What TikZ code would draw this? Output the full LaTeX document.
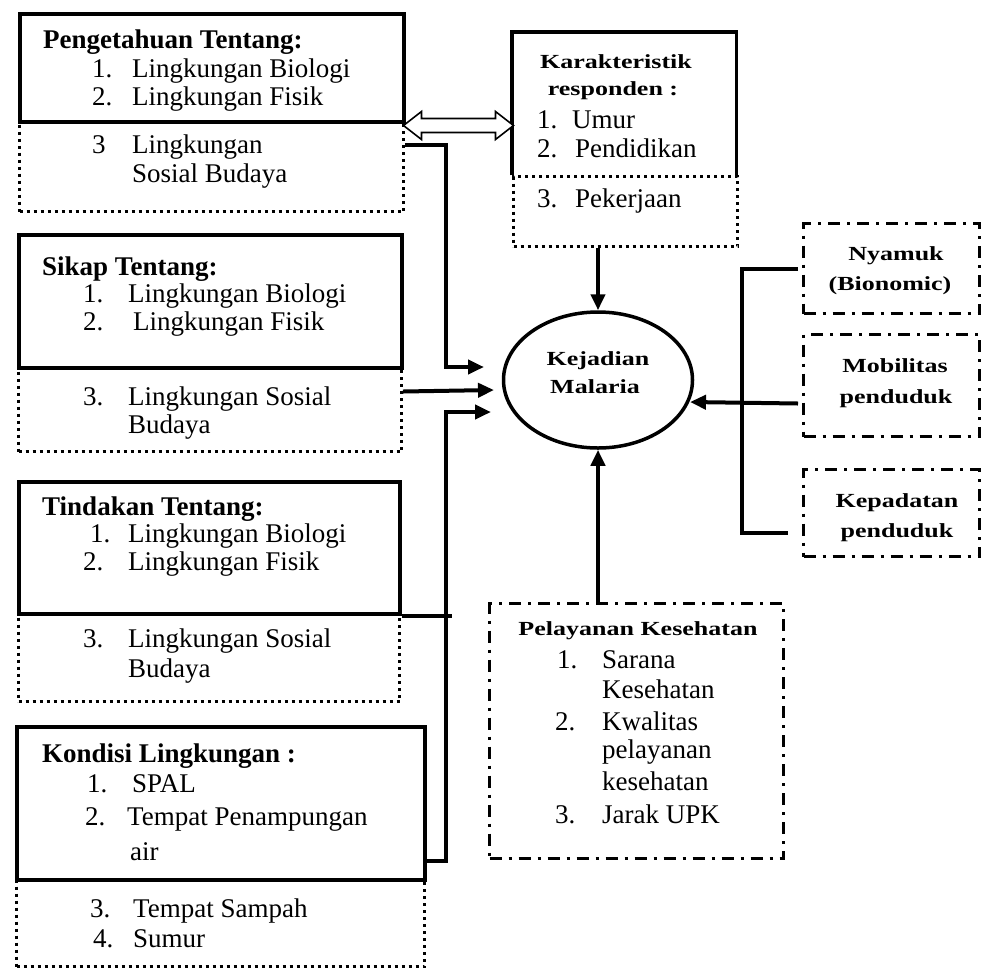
\documentclass[tikz,border=0pt]{standalone}
\usepackage{fontspec}
\setmainfont{Liberation Serif}
\newfontfamily\smbf[FakeStretch=1.3]{Liberation Serif}
\usetikzlibrary{arrows.meta,shapes.geometric}
\tikzset{
 txt/.style={inner sep=0pt, anchor=base west, font=\fontsize{27}{30}\selectfont},
 hd/.style={inner sep=0pt, anchor=base west, font=\fontsize{27}{30}\selectfont\bfseries},
 sm/.style={inner sep=0pt, anchor=base, font=\fontsize{20}{24}\smbf\bfseries},
 boxn/.style={inner sep=0pt, anchor=north west, rectangle},
 solidline/.style={line width=3.5pt, line join=miter},
 dotline/.style={line width=3pt, dash pattern=on 3pt off 4pt},
 dashdot/.style={line width=3pt, dash pattern=on 12pt off 7pt on 3pt off 7pt},
 conn/.style={line width=4pt},
 arr/.style={conn, -{Triangle[length=16pt,width=14pt]}},
}
\begin{document}
\begin{tikzpicture}[x=1pt,y=-1pt]
\useasboundingbox (0,0) rectangle (982,970);

% ---- boxes: dotted lower parts first
\node[boxn, draw, dotline, minimum width=384, minimum height=90] (pg2) at (18,120) {};
\node[boxn, draw, dotline, minimum width=383, minimum height=84] (sk2) at (17,366) {};
\node[boxn, draw, dotline, minimum width=381, minimum height=88] (td2) at (17,612) {};
\node[boxn, draw, dotline, minimum width=408, minimum height=87] (kd2) at (15,878) {};
\node[boxn, draw, dotline, minimum width=224, minimum height=70] (kr2) at (512,175) {};

% ---- solid upper parts
\node[boxn, draw, solidline, minimum width=384, minimum height=108] (pg1) at (18,12) {};
\node[boxn, draw, solidline, minimum width=383, minimum height=133] (sk1) at (17,233) {};
\node[boxn, draw, solidline, minimum width=381, minimum height=132] (td1) at (17,480) {};
\node[boxn, draw, solidline, minimum width=408, minimum height=153] (kd1) at (15,725) {};
\node[boxn, minimum width=224, minimum height=143] (kr1) at (512,32) {};
\draw[solidline] (kr1.south west) |- (kr1.north east) -- (kr1.south east);

% ---- dash-dot boxes
\node[boxn, draw, dashdot, minimum width=176, minimum height=90] (ny) at (802,222) {};
\node[boxn, draw, dashdot, minimum width=176, minimum height=102] (mb) at (802,333) {};
\node[boxn, draw, dashdot, minimum width=176, minimum height=87] (kp) at (802,468) {};
\node[boxn, draw, dashdot, minimum width=294, minimum height=255] (pl) at (488,602) {};

% ---- ellipse
\node[draw, ellipse, line width=3.5pt, minimum width=189, minimum height=136, inner sep=0pt] (em) at (598,380) {};

% ---- texts: Pengetahuan
\node[hd] (pgh) at (43,48) {Pengetahuan Tentang:};
\node[txt] (pga) at (92,77) {1.};
\node[txt] (pgat) at (132,77) {Lingkungan Biologi};
\node[txt] (pgb) at (92,105) {2.};
\node[txt] (pgbt) at (132,105) {Lingkungan Fisik};
\node[txt] (pgc) at (92,153) {3};
\node[txt] (pgct) at (132,153) {Lingkungan};
\node[txt] (pgdt) at (132,182) {Sosial Budaya};

% Sikap
\node[hd] (skh) at (42,275) {Sikap Tentang:};
\node[txt] (ska) at (83,302) {1.};
\node[txt] (skat) at (128,302) {Lingkungan Biologi};
\node[txt] (skb) at (83,330) {2.};
\node[txt] (skbt) at (133,330) {Lingkungan Fisik};
\node[txt] (skc) at (83,405) {3.};
\node[txt] (skct) at (128,405) {Lingkungan Sosial};
\node[txt] (skdt) at (128,433) {Budaya};

% Tindakan
\node[hd] (tdh) at (42,515) {Tindakan Tentang:};
\node[txt] (tda) at (90,542) {1.};
\node[txt] (tdat) at (128,542) {Lingkungan Biologi};
\node[txt] (tdb) at (83,570) {2.};
\node[txt] (tdbt) at (128,570) {Lingkungan Fisik};
\node[txt] (tdc) at (83,647) {3.};
\node[txt] (tdct) at (128,647) {Lingkungan Sosial};
\node[txt] (tddt) at (128,677) {Budaya};

% Kondisi
\node[hd] (kdh) at (42,762) {Kondisi Lingkungan :};
\node[txt] (kda) at (87,792) {1.};
\node[txt] (kdat) at (132,792) {SPAL};
\node[txt] (kdb) at (85,825) {2.};
\node[txt] (kdbt) at (127,825) {Tempat Penampungan};
\node[txt] (kdbu) at (130,860) {air};
\node[txt] (kdc) at (90,917) {3.};
\node[txt] (kdct) at (133,917) {Tempat Sampah};
\node[txt] (kdd) at (93,947) {4.};
\node[txt] (kddt) at (133,947) {Sumur};

% Karakteristik
\node[sm] (krh1) at (616,68) {Karakteristik};
\node[sm] (krh2) at (613,95) {responden :};
\node[txt] (kra) at (537,128) {1.};
\node[txt] (krat) at (572,128) {Umur};
\node[txt] (krb) at (537,157) {2.};
\node[txt] (krbt) at (575,157) {Pendidikan};
\node[txt] (krc) at (537,207) {3.};
\node[txt] (krct) at (575,207) {Pekerjaan};

% Ellipse text
\node[sm] (em1) at (598,365) {Kejadian};
\node[sm] (em2) at (595,393) {Malaria};

% Right boxes text
\node[sm] (ny1) at (896,260) {Nyamuk};
\node[sm] (ny2) at (890,290) {(Bionomic)};
\node[sm] (mb1) at (895,372) {Mobilitas};
\node[sm] (mb2) at (896,403) {penduduk};
\node[sm] (kp1) at (897,507) {Kepadatan};
\node[sm] (kp2) at (897,537) {penduduk};

% Pelayanan
\node[sm] (plh) at (638,635) {Pelayanan Kesehatan};
\node[txt] (pla) at (557,668) {1.};
\node[txt] (plat) at (602,668) {Sarana};
\node[txt] (plau) at (602,698) {Kesehatan};
\node[txt] (plb) at (555,730) {2.};
\node[txt] (plbt) at (602,730) {Kwalitas};
\node[txt] (plbu) at (602,758) {pelayanan};
\node[txt] (plbv) at (602,790) {kesehatan};
\node[txt] (plc) at (555,823) {3.};
\node[txt] (plct) at (602,823) {Jarak UPK};

% ---- connectors
\coordinate (t1) at (484,367);
\coordinate (t2) at (494,390);
\coordinate (t3) at (491,412);
\coordinate (t4) at (690,402);
\coordinate (kb) at (788,533);

% double arrow between Pengetahuan and Karakteristik
\draw[line width=1.6pt, line join=miter, fill=white]
  ([xshift=-2pt,yshift=-2pt]pg1.south east) -- ++(18,-14) -- ++(0,7) -- ++(74,0) -- ++(0,-7)
  -- ++(18,14) -- ++(-18,14) -- ++(0,-7) -- ++(-74,0) -- ++(0,7) -- cycle;

\draw[arr] ([yshift=22pt]pg2.east) -| ([xshift=-38pt]t1) -- (t1);
\draw[arr] ([yshift=18pt]sk2.east) -- (t2);
\draw[arr] ([yshift=21pt]kd1.south east) -| ([xshift=-45pt]t3) -- (t3);
\draw[conn] (td1.south east) -- ++(50,0);

\draw[arr] (em.north |- kr2.south) -- (em.north);
\draw[arr] (em.south |- pl.north) -- (em.south);

\draw[conn] ([xshift=-4pt]ny.west) -| ([xshift=-46pt]kb) -- (kb);
\draw[arr] ([xshift=-4pt,yshift=-18pt]mb.west) -- (t4);
\end{tikzpicture}
\end{document}
